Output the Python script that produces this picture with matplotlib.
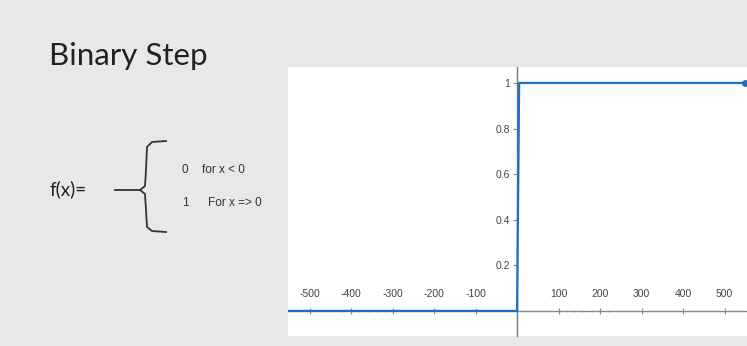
import numpy as np
import matplotlib.pyplot as plt
from matplotlib.ticker import MultipleLocator, FixedLocator

# step function samples
step_x = [-560, 0, 5, 549]
step_y = [0, 0, 1, 1]

x_ticks = [-500, -400, -300, -200, -100, 100, 200, 300, 400, 500]
y_ticks = [0.2, 0.4, 0.6, 0.8, 1]
y_labels = ["0.2", "0.4", "0.6", "0.8", "1"]

title = "Binary Step"
case_vals = ["0", "1"]
case_text = ["for x < 0", "For x => 0"]

W, H = 747, 346
fig = plt.figure(figsize=(W / 100, H / 100), dpi=100)
fig.patch.set_facecolor("#e8e8e8")

# slide overlay in pixel coords
over = fig.add_axes([0, 0, 1, 1])
over.set_xlim(0, W)
over.set_ylim(H, 0)
over.axis("off")
over.text(49, 56, title, fontsize=22.5, family="Lato", color="#222222", va="center", ha="left")
over.text(49, 189, "f(x)=", fontsize=13.5, family="Lato", color="#222222", va="center", ha="left")
over.plot([115, 140], [190, 190], color="#333333", lw=1.3)
# brace
bx = [166, 152, 147, 146, 145, 140, 145, 146, 147, 152, 166]
by = [141, 142, 147, 170, 186, 190, 194, 210, 227, 231, 232]
over.plot(bx, by, color="#333333", lw=1.3)
for i, (v, t) in enumerate(zip(case_vals, case_text)):
    yy = 170 + i * 33
    over.text(182, yy, v, fontsize=8.5, family="Liberation Sans", color="#333333", va="center")
    over.text(202 + i * 6, yy, t, fontsize=8.5, family="Liberation Sans", color="#333333", va="center")

# chart panel
ax = fig.add_axes([288 / W, 10 / H, 1 - 288 / W, (336 - 67) / H])
ax.set_facecolor("white")
ax.plot(step_x, step_y, color="#1f6fc8", lw=1.6, zorder=5)
ax.plot(step_x[-1], step_y[-1], "o", color="#1f6fc8", ms=4, zorder=6, clip_on=False)
ax.set_xlim(-552, 554)
ax.set_ylim(-0.11, 1.07)

for s in ["top", "right"]:
    ax.spines[s].set_visible(False)
ax.spines["left"].set_position(("data", 0))
ax.spines["bottom"].set_position(("data", 0))
ax.spines["left"].set_color("#777777")
ax.spines["bottom"].set_color("#888888")
ax.spines["left"].set_linewidth(1.0)
ax.spines["bottom"].set_linewidth(1.0)

ax.xaxis.set_major_locator(FixedLocator(x_ticks))
ax.xaxis.set_minor_locator(MultipleLocator(20))
ax.set_xticklabels([str(v) for v in x_ticks])
ax.yaxis.set_major_locator(FixedLocator(y_ticks))
ax.set_yticklabels(y_labels)

ax.tick_params(axis="x", which="major", direction="inout", length=5, color="#888888",
               labelsize=7.5, labelcolor="#444444", pad=-18)
ax.tick_params(axis="x", which="minor", direction="inout", length=2, color="#999999")
ax.tick_params(axis="y", which="major", direction="out", length=3, color="#888888",
               labelsize=7.5, labelcolor="#444444", pad=2)
for lab in ax.get_xticklabels() + ax.get_yticklabels():
    lab.set_family("Liberation Sans")

fig.savefig("out.png", dpi=100, facecolor=fig.get_facecolor())
